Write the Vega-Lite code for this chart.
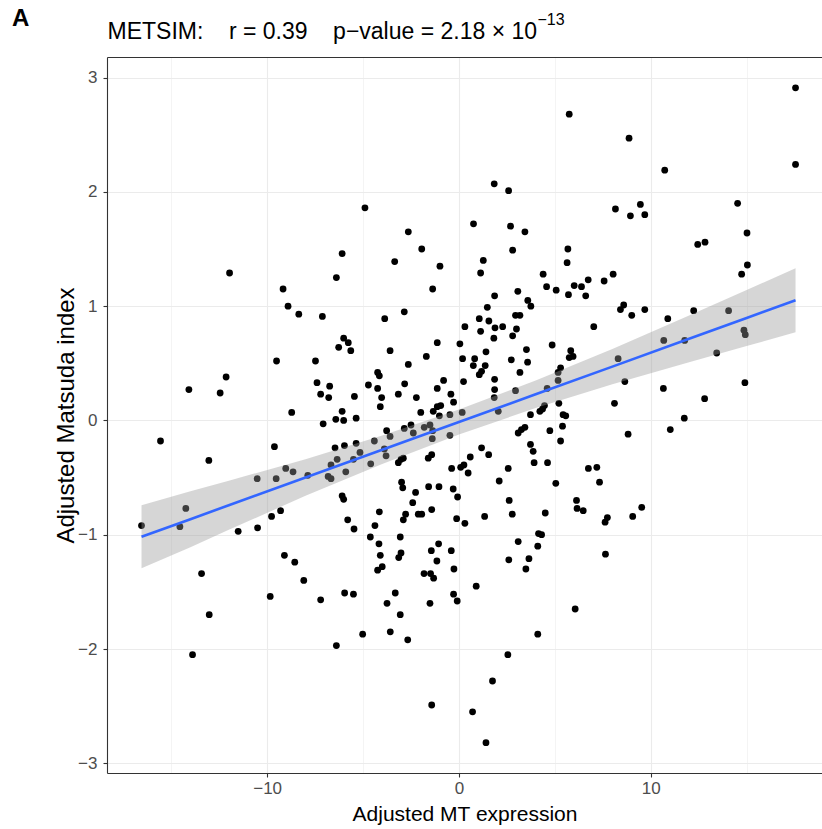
{
  "$schema": "https://vega.github.io/schema/vega-lite/v6.json",
  "width": 715,
  "height": 716,
  "autosize": {"type": "none"},
  "padding": {"left": 107, "top": 57, "right": 0, "bottom": 56},
  "background": "white",
  "config": {
    "font": "Liberation Sans",
    "view": {"stroke": null},
    "axis": {
      "domainColor": "#333333", "domainWidth": 1.1,
      "tickColor": "#333333", "tickWidth": 1.1, "tickSize": 4,
      "labelColor": "#4D4D4D", "labelFontSize": 17, "labelFont": "Liberation Sans",
      "titleFont": "Liberation Sans", "titleFontWeight": "normal", "titleColor": "#000000", "titleFontSize": 21,
      "gridColor": "#EBEBEB"
    }
  },
  "title": {"text": "A", "anchor": "start", "frame": "group", "fontSize": 24, "fontWeight": "bold", "font": "Liberation Sans", "dx": -95, "dy": 24, "color": "#000000"},
  "datasets": {
    "pts": [
      {"x": -11.96, "y": 1.29}, {"x": -9.17, "y": 1.15}, {"x": -6.39, "y": 1.25}, {"x": -6.09, "y": 1.46},
      {"x": 5.75, "y": 2.68}, {"x": 1.84, "y": 2.07}, {"x": 2.59, "y": 2.01}, {"x": -4.9, "y": 1.86},
      {"x": 0.76, "y": 1.72}, {"x": 2.69, "y": 1.7}, {"x": 3.44, "y": 1.65}, {"x": -2.64, "y": 1.65},
      {"x": -1.94, "y": 1.5}, {"x": 2.8, "y": 1.49}, {"x": 5.68, "y": 1.5}, {"x": -3.35, "y": 1.39},
      {"x": 1.27, "y": 1.4}, {"x": -0.99, "y": 1.35}, {"x": 5.64, "y": 1.38}, {"x": 1.13, "y": 1.29},
      {"x": 4.39, "y": 1.28}, {"x": -1.37, "y": 1.15}, {"x": 4.57, "y": 1.17}, {"x": 5.07, "y": 1.14},
      {"x": 6.01, "y": 1.18}, {"x": 1.86, "y": 1.09}, {"x": 3.07, "y": 1.13}, {"x": 5.71, "y": 1.1},
      {"x": 17.55, "y": 2.91}, {"x": 8.87, "y": 2.47}, {"x": 10.73, "y": 2.19}, {"x": 17.55, "y": 2.24},
      {"x": 14.53, "y": 1.9}, {"x": 8.16, "y": 1.85}, {"x": 8.94, "y": 1.79}, {"x": 9.46, "y": 1.89},
      {"x": 9.69, "y": 1.8}, {"x": 15.02, "y": 1.64}, {"x": 12.45, "y": 1.54}, {"x": 12.83, "y": 1.56},
      {"x": 15.04, "y": 1.36}, {"x": 14.74, "y": 1.28}, {"x": 8.04, "y": 1.28}, {"x": 7.57, "y": 1.22},
      {"x": 6.74, "y": 1.23}, {"x": 6.39, "y": 1.17}, {"x": 6.61, "y": 1.09},
      {"x": -8.91, "y": 1.0}, {"x": -8.35, "y": 0.93}, {"x": -7.12, "y": 0.91}, {"x": -6.01, "y": 0.72},
      {"x": -6.27, "y": 0.64}, {"x": -9.51, "y": 0.52}, {"x": -7.48, "y": 0.52}, {"x": -12.14, "y": 0.38},
      {"x": -14.08, "y": 0.27}, {"x": -12.45, "y": 0.24}, {"x": -7.4, "y": 0.33}, {"x": -7.21, "y": 0.23},
      {"x": -6.74, "y": 0.3}, {"x": -6.79, "y": 0.2}, {"x": -8.72, "y": 0.07}, {"x": -6.09, "y": 0.08},
      {"x": -6.42, "y": 0.01}, {"x": -6.01, "y": 0.0}, {"x": -7.08, "y": -0.03}, {"x": -15.56, "y": -0.18},
      {"x": -9.62, "y": -0.23}, {"x": -6.46, "y": -0.24}, {"x": -5.97, "y": -0.22}, {"x": -13.04, "y": -0.35},
      {"x": -6.35, "y": -0.34}, {"x": -9.03, "y": -0.42}, {"x": -8.65, "y": -0.45}, {"x": -6.67, "y": -0.39},
      {"x": -5.9, "y": -0.45}, {"x": -7.88, "y": -0.48}, {"x": -6.82, "y": -0.49}, {"x": -6.67, "y": -0.51},
      {"x": -10.52, "y": -0.51}, {"x": -9.53, "y": -0.51}, {"x": -6.09, "y": -0.66}, {"x": -6.01, "y": -0.69},
      {"x": -14.24, "y": -0.77}, {"x": -9.3, "y": -0.79}, {"x": -9.77, "y": -0.84}, {"x": -5.8, "y": -0.87},
      {"x": -16.55, "y": -0.92}, {"x": -14.55, "y": -0.93}, {"x": -10.5, "y": -0.94}, {"x": -11.51, "y": -0.97},
      {"x": -9.1, "y": -1.18}, {"x": -8.56, "y": -1.24}, {"x": -8.09, "y": -1.4}, {"x": -13.42, "y": -1.34},
      {"x": -9.84, "y": -1.54}, {"x": -7.21, "y": -1.57}, {"x": -5.96, "y": -1.51}, {"x": -13.02, "y": -1.7},
      {"x": -6.39, "y": -1.97}, {"x": -13.89, "y": -2.05},
      {"x": 3.59, "y": 1.05}, {"x": 3.75, "y": 1.0}, {"x": 1.48, "y": 0.99}, {"x": -2.85, "y": 0.95},
      {"x": -3.87, "y": 0.89}, {"x": 1.06, "y": 0.89}, {"x": 1.56, "y": 0.87}, {"x": 2.95, "y": 0.92},
      {"x": 3.18, "y": 0.92}, {"x": 0.31, "y": 0.82}, {"x": 1.88, "y": 0.81}, {"x": 2.28, "y": 0.82},
      {"x": 1.13, "y": 0.78}, {"x": 3.0, "y": 0.8}, {"x": 2.8, "y": 0.74}, {"x": 1.82, "y": 0.72},
      {"x": -5.77, "y": 0.68}, {"x": -5.64, "y": 0.61}, {"x": -1.13, "y": 0.68}, {"x": 0.05, "y": 0.67},
      {"x": -3.59, "y": 0.61}, {"x": 1.41, "y": 0.6}, {"x": 3.52, "y": 0.62}, {"x": 4.86, "y": 0.66},
      {"x": 5.83, "y": 0.61}, {"x": 5.95, "y": 0.56}, {"x": 5.75, "y": 0.55}, {"x": -1.7, "y": 0.56},
      {"x": 0.19, "y": 0.54}, {"x": 0.82, "y": 0.54}, {"x": 0.75, "y": 0.48}, {"x": 1.37, "y": 0.48},
      {"x": 2.73, "y": 0.53}, {"x": 3.58, "y": 0.51}, {"x": -2.64, "y": 0.49}, {"x": -4.24, "y": 0.42},
      {"x": -4.15, "y": 0.39}, {"x": 1.06, "y": 0.4}, {"x": 1.18, "y": 0.43}, {"x": 3.18, "y": 0.42},
      {"x": 5.3, "y": 0.46}, {"x": 5.17, "y": 0.42}, {"x": 1.86, "y": 0.36}, {"x": 0.24, "y": 0.34},
      {"x": -4.72, "y": 0.31}, {"x": -2.83, "y": 0.32}, {"x": -0.8, "y": 0.35}, {"x": -4.24, "y": 0.28},
      {"x": -1.13, "y": 0.28}, {"x": 1.86, "y": 0.27}, {"x": 5.17, "y": 0.35}, {"x": 2.95, "y": 0.26},
      {"x": 4.6, "y": 0.28}, {"x": -5.45, "y": 0.21}, {"x": -4.03, "y": 0.2}, {"x": -3.16, "y": 0.23},
      {"x": -2.22, "y": 0.2}, {"x": -0.42, "y": 0.23}, {"x": 1.84, "y": 0.2}, {"x": -4.1, "y": 0.12},
      {"x": -0.28, "y": 0.16}, {"x": -0.95, "y": 0.13}, {"x": -1.13, "y": 0.12}, {"x": 5.21, "y": 0.15},
      {"x": -1.34, "y": 0.08}, {"x": -1.99, "y": 0.07}, {"x": -1.02, "y": 0.04}, {"x": -0.47, "y": 0.05},
      {"x": 0.17, "y": 0.07}, {"x": 2.05, "y": 0.08}, {"x": 4.36, "y": 0.1}, {"x": 4.22, "y": 0.08},
      {"x": 4.46, "y": 0.13}, {"x": 3.73, "y": 0.05}, {"x": 5.43, "y": 0.05}, {"x": 5.57, "y": 0.04},
      {"x": -5.36, "y": 0.02}, {"x": -2.5, "y": -0.04}, {"x": -2.85, "y": -0.07}, {"x": -1.81, "y": -0.06},
      {"x": -1.51, "y": -0.04}, {"x": -1.37, "y": -0.09}, {"x": -2.38, "y": -0.11}, {"x": -3.77, "y": -0.09},
      {"x": -3.59, "y": -0.14}, {"x": -0.47, "y": -0.13}, {"x": -1.39, "y": -0.16}, {"x": 5.4, "y": -0.05},
      {"x": 3.26, "y": -0.08}, {"x": 3.09, "y": -0.11}, {"x": 3.44, "y": -0.06}, {"x": 4.74, "y": -0.09},
      {"x": 5.3, "y": -0.18}, {"x": -4.41, "y": -0.18}, {"x": -5.36, "y": -0.2}, {"x": -5.16, "y": -0.28},
      {"x": -3.89, "y": -0.25}, {"x": -3.8, "y": -0.31}, {"x": -5.5, "y": -0.34}, {"x": -4.6, "y": -0.38},
      {"x": -3.02, "y": -0.34}, {"x": -3.16, "y": -0.37}, {"x": -2.9, "y": -0.33}, {"x": -1.6, "y": -0.33},
      {"x": -1.42, "y": -0.3}, {"x": 1.18, "y": -0.24}, {"x": 1.55, "y": -0.3}, {"x": 3.73, "y": -0.21},
      {"x": 3.87, "y": -0.27}, {"x": 3.92, "y": -0.37}, {"x": 4.62, "y": -0.37}, {"x": -0.38, "y": -0.42},
      {"x": 0.09, "y": -0.41}, {"x": 0.26, "y": -0.39}, {"x": 0.59, "y": -0.32}, {"x": 0.48, "y": -0.46},
      {"x": 2.57, "y": -0.42}, {"x": 2.1, "y": -0.53}, {"x": 5.05, "y": -0.55}, {"x": -2.99, "y": -0.54},
      {"x": -2.93, "y": -0.59}, {"x": -1.58, "y": -0.58}, {"x": -1.04, "y": -0.58}, {"x": -0.3, "y": -0.6},
      {"x": -0.07, "y": -0.67}, {"x": -2.26, "y": -0.63}, {"x": -2.41, "y": -0.72}, {"x": 2.62, "y": -0.7},
      {"x": 6.13, "y": -0.7}, {"x": 6.16, "y": -0.77}, {"x": -4.15, "y": -0.8}, {"x": -2.78, "y": -0.82},
      {"x": -2.9, "y": -0.87}, {"x": -2.12, "y": -0.82}, {"x": -1.94, "y": -0.82}, {"x": -1.42, "y": -0.78},
      {"x": -0.12, "y": -0.86}, {"x": 0.31, "y": -0.9}, {"x": 1.34, "y": -0.84}, {"x": 2.78, "y": -0.82},
      {"x": 4.5, "y": -0.81}, {"x": -5.47, "y": -0.95}, {"x": -4.38, "y": -0.92},
      {"x": -4.62, "y": -1.02}, {"x": -3.06, "y": -1.02}, {"x": -4.17, "y": -1.08}, {"x": -4.1, "y": -1.18},
      {"x": -3.14, "y": -1.2}, {"x": -3.02, "y": -1.16}, {"x": -4.24, "y": -1.31}, {"x": -4.0, "y": -1.28},
      {"x": -1.44, "y": -1.14}, {"x": -1.06, "y": -1.08}, {"x": -1.15, "y": -1.23}, {"x": -0.4, "y": -1.14},
      {"x": -0.26, "y": -1.3}, {"x": -1.82, "y": -1.34}, {"x": -1.48, "y": -1.34}, {"x": -1.32, "y": -1.38},
      {"x": 0.9, "y": -1.45}, {"x": 3.09, "y": -1.06}, {"x": 4.15, "y": -0.99}, {"x": 4.31, "y": -1.0},
      {"x": 4.11, "y": -1.1}, {"x": 2.6, "y": -1.22}, {"x": 3.65, "y": -1.21}, {"x": 3.49, "y": -1.3},
      {"x": -5.5, "y": -1.52}, {"x": -3.75, "y": -1.6}, {"x": -3.32, "y": -1.51}, {"x": -3.06, "y": -1.7},
      {"x": -1.51, "y": -1.6}, {"x": -0.28, "y": -1.52}, {"x": -0.09, "y": -1.58}, {"x": -5.02, "y": -1.87},
      {"x": -3.58, "y": -1.85}, {"x": -2.67, "y": -1.92}, {"x": 4.11, "y": -1.87}, {"x": 6.06, "y": -1.65},
      {"x": 2.55, "y": -2.05}, {"x": 1.75, "y": -2.28}, {"x": -1.42, "y": -2.49}, {"x": 0.71, "y": -2.55},
      {"x": 1.41, "y": -2.82},
      {"x": 8.42, "y": 0.97}, {"x": 8.59, "y": 1.01}, {"x": 9.01, "y": 0.92}, {"x": 9.69, "y": 0.97},
      {"x": 10.89, "y": 0.89}, {"x": 12.24, "y": 0.96}, {"x": 14.06, "y": 0.96}, {"x": 7.03, "y": 0.82},
      {"x": 14.86, "y": 0.79}, {"x": 14.93, "y": 0.75}, {"x": 10.68, "y": 0.7}, {"x": 11.77, "y": 0.7},
      {"x": 8.3, "y": 0.54}, {"x": 13.44, "y": 0.59}, {"x": 8.65, "y": 0.34}, {"x": 10.66, "y": 0.28},
      {"x": 14.91, "y": 0.33}, {"x": 12.81, "y": 0.19}, {"x": 8.11, "y": 0.15}, {"x": 11.75, "y": 0.02},
      {"x": 11.02, "y": -0.08}, {"x": 8.82, "y": -0.12}, {"x": 6.75, "y": -0.42}, {"x": 7.19, "y": -0.41},
      {"x": 7.33, "y": -0.54}, {"x": 6.48, "y": -0.79}, {"x": 9.53, "y": -0.76}, {"x": 9.06, "y": -0.84},
      {"x": 7.74, "y": -0.85}, {"x": 7.62, "y": -0.89}, {"x": 7.64, "y": -1.17}
    ],
    "fit": [
      {"x": -16.55, "fit": -1.018, "lo": -1.293, "hi": -0.743},
      {"x": -14, "fit": -0.864, "lo": -1.109, "hi": -0.619},
      {"x": -12, "fit": -0.742, "lo": -0.957, "hi": -0.527},
      {"x": -8, "fit": -0.5, "lo": -0.66, "hi": -0.34},
      {"x": -4, "fit": -0.257, "lo": -0.382, "hi": -0.132},
      {"x": 0, "fit": -0.014, "lo": -0.124, "hi": 0.096},
      {"x": 4, "fit": 0.229, "lo": 0.109, "hi": 0.349},
      {"x": 8, "fit": 0.471, "lo": 0.316, "hi": 0.626},
      {"x": 12, "fit": 0.714, "lo": 0.509, "hi": 0.919},
      {"x": 15, "fit": 0.896, "lo": 0.651, "hi": 1.141},
      {"x": 17.55, "fit": 1.051, "lo": 0.771, "hi": 1.331}
    ]
  },
  "resolve": {"axis": {"x": "independent"}},
  "layer": [
    {
      "data": {"name": "pts"},
      "mark": {"type": "circle", "size": 46, "color": "#000000", "opacity": 1},
      "encoding": {
        "x": {
          "field": "x", "type": "quantitative",
          "scale": {"domain": [-18.35, 18.93], "nice": false, "zero": false},
          "axis": {
            "orient": "bottom", "title": "Adjusted MT expression", "titlePadding": 7, "labelPadding": 3,
            "values": [-15, -10, -5, 0, 5, 10, 15], "format": "d",
            "labelExpr": "datum.value % 10 ? '' : datum.label",
            "grid": true,
            "gridWidth": {"condition": {"test": "datum.value % 10 !== 0", "value": 0.55}, "value": 1.1},
            "tickOpacity": {"condition": {"test": "datum.value % 10 !== 0", "value": 0}, "value": 1}
          }
        },
        "y": {
          "field": "y", "type": "quantitative",
          "scale": {"domain": [-3.085, 3.18], "nice": false, "zero": false},
          "axis": {
            "orient": "left", "title": "Adjusted Matsuda index", "titleFontSize": 24, "titlePadding": -1, "labelPadding": 6,
            "values": [-3, -2.5, -2, -1.5, -1, -0.5, 0, 0.5, 1, 1.5, 2, 2.5, 3], "format": "d",
            "labelExpr": "datum.value % 1 ? '' : datum.label",
            "grid": true,
            "gridWidth": {"condition": {"test": "datum.value % 1 !== 0", "value": 0.55}, "value": 1.1},
            "tickOpacity": {"condition": {"test": "datum.value % 1 !== 0", "value": 0}, "value": 1}
          }
        }
      }
    },
    {
      "data": {"name": "fit"},
      "mark": {"type": "area", "color": "#999999", "opacity": 0.4},
      "encoding": {
        "x": {
          "field": "x", "type": "quantitative",
          "axis": {
            "orient": "top", "domain": true, "ticks": false, "labels": false, "grid": false,
            "title": "METSIM:\u00a0\u00a0\u00a0 r = 0.39 \u00a0\u00a0\u00a0p\u2212value = 2.18 \u00d7 10",
            "titleFontSize": 23, "titleAnchor": "start", "titleAlign": "left", "titleBaseline": "alphabetic",
            "titleX": 0, "titleY": -19
          }
        },
        "y": {"field": "lo", "type": "quantitative", "title": "Adjusted Matsuda index"},
        "y2": {"field": "hi"}
      }
    },
    {
      "data": {"name": "fit"},
      "mark": {"type": "line", "color": "#3366FF", "strokeWidth": 2.6},
      "encoding": {
        "x": {
          "field": "x", "type": "quantitative",
          "axis": {
            "orient": "top", "domain": false, "ticks": false, "labels": false, "grid": false,
            "title": "\u221213",
            "titleFontSize": 16, "titleAnchor": "start", "titleAlign": "left", "titleBaseline": "alphabetic",
            "titleX": 430, "titleY": -33
          }
        },
        "y": {"field": "fit", "type": "quantitative", "title": "Adjusted Matsuda index"}
      }
    }
  ]
}
